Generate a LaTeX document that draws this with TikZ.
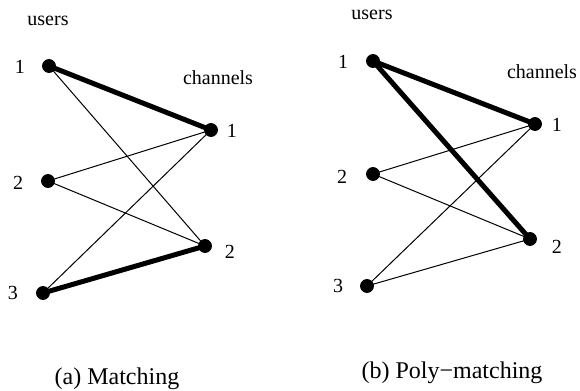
\documentclass[tikz,border=0pt]{standalone}
\usepackage{fontspec}
\setmainfont{Liberation Serif}
\usetikzlibrary{backgrounds}

\begin{document}
\begin{tikzpicture}[x=0.5pt, y=-0.5pt,
	dot/.style = {circle, draw, fill = black, inner sep=0pt, minimum size = 6.5pt},
	lbl/.style = {inner sep=0pt, font=\fontsize{10}{12}\selectfont},
	subcap/.style = {inner sep=0pt, anchor=base, font=\fontsize{12}{14}\selectfont},
	link/.style = {line width = 0.5pt},
	match/.style = {line width = 2.5pt}]
\useasboundingbox (0,0) rectangle (580,391);
% (a) matching
\node[dot] (au1) at (49,66) {};
\node[dot] (au2) at (48,181) {};
\node[dot] (au3) at (43,293) {};
\node[dot] (ac1) at (211,130) {};
\node[dot] (ac2) at (205,246) {};
\node[lbl] at (48,21) {users};
\node[lbl] at (218,78) {channels};
\node[lbl] at (20,67) {1};
\node[lbl] at (18,183) {2};
\node[lbl] at (13,293) {3};
\node[lbl] at (232,131) {1};
\node[lbl] at (230,252) {2};
\node[subcap] (capa) at (117,384) {(a) Matching};
% (b) poly-matching
\node[dot] (bu1) at (373,61) {};
\node[dot] (bu2) at (373,174) {};
\node[dot] (bu3) at (367,286) {};
\node[dot] (bc1) at (535,124) {};
\node[dot] (bc2) at (530,239) {};
\node[lbl] at (372,15) {users};
\node[lbl] at (542,72) {channels};
\node[lbl] at (343,62) {1};
\node[lbl] at (342,177) {2};
\node[lbl] at (338,286) {3};
\node[lbl] at (557,125) {1};
\node[lbl] at (557,247) {2};
\node[subcap] (capb) at (452,379) {(b) Poly\textminus matching};
\begin{scope}[on background layer]
\draw[match] (au1.center) -- (ac1.center);
\draw[link] (au1.center) -- (ac2.center);
\draw[link] (au2.center) -- (ac1.center);
\draw[link] (au2.center) -- (ac2.center);
\draw[link] (au3.center) -- (ac1.center);
\draw[match] (au3.center) -- (ac2.center);
\draw[match] (bu1.center) -- (bc1.center);
\draw[match] (bu1.center) -- (bc2.center);
\draw[link] (bu2.center) -- (bc1.center);
\draw[link] (bu2.center) -- (bc2.center);
\draw[link] (bu3.center) -- (bc1.center);
\draw[link] (bu3.center) -- (bc2.center);
\end{scope}
\end{tikzpicture}
\end{document}
